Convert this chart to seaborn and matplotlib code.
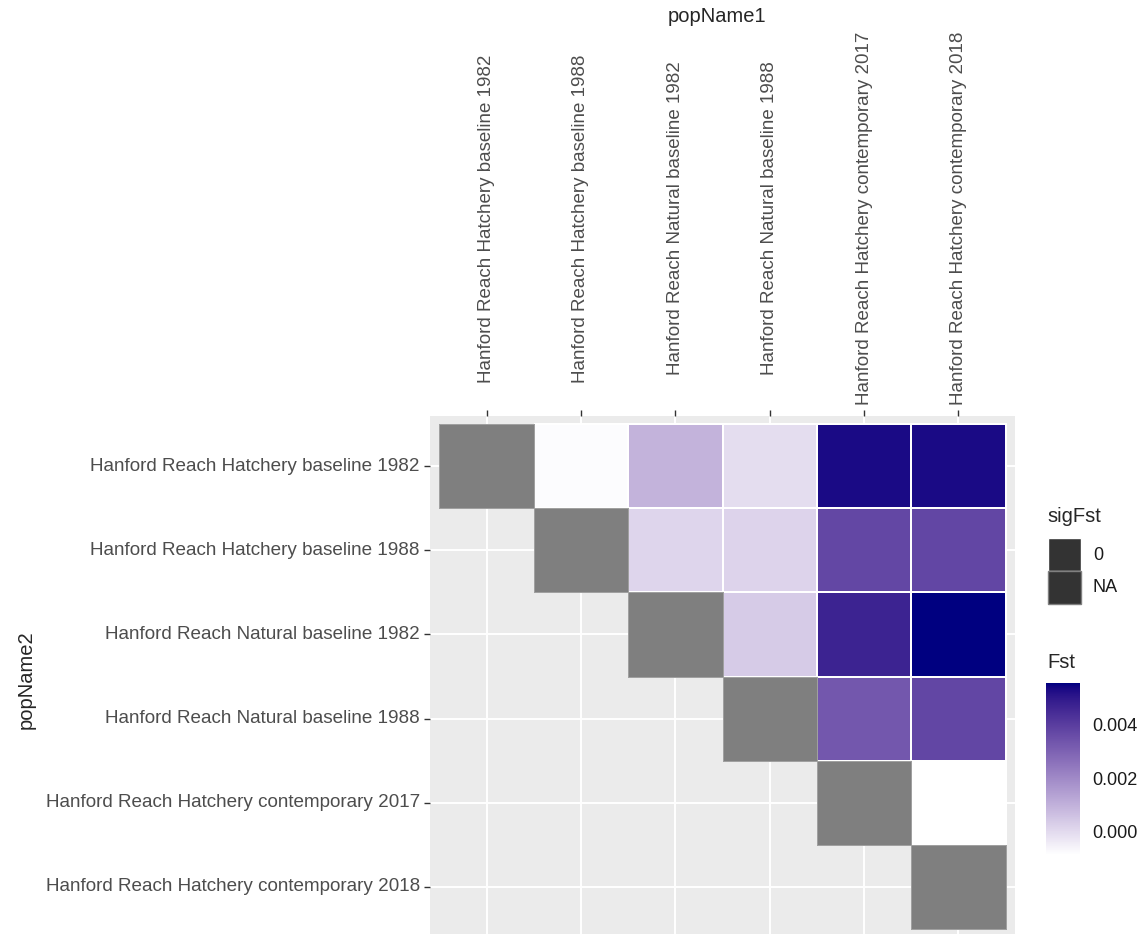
import numpy as np
import pandas as pd
import matplotlib
matplotlib.use("Agg")
import matplotlib.pyplot as plt
import seaborn as sns
from matplotlib.colors import ListedColormap, to_rgba
from matplotlib.patches import Rectangle

# Population pairs (popName1 on columns, popName2 on rows)
populations = [
    "Hanford Reach Hatchery baseline 1982",
    "Hanford Reach Hatchery baseline 1988",
    "Hanford Reach Natural baseline 1982",
    "Hanford Reach Natural baseline 1988",
    "Hanford Reach Hatchery contemporary 2017",
    "Hanford Reach Hatchery contemporary 2018",
]

nan = np.nan
# pairwise Fst, one list per popName2 row (diagonal = self comparison -> NA)
fst_hat_1982 = [nan, -0.00076, 0.00096, -0.00004, 0.00534, 0.00534]
fst_hat_1988 = [nan, nan, 0.00013, 0.00017, 0.00374, 0.00377]
fst_nat_1982 = [nan, nan, nan, 0.00039, 0.00473, 0.00557]
fst_nat_1988 = [nan, nan, nan, nan, 0.00333, 0.00377]
fst_con_2017 = [nan, nan, nan, nan, nan, -0.00086]
fst_con_2018 = [nan, nan, nan, nan, nan, nan]

sig_levels = ["0", "NA"]
fst_ticks = [0.000, 0.002, 0.004]

W, H = 1142, 934


def fx(px):
    return px / W


def fy(py):
    return 1 - py / H


def srgb_to_lab(rgb):
    rgb = np.asarray(rgb, dtype=float)
    c = np.where(rgb <= 0.04045, rgb / 12.92, ((rgb + 0.055) / 1.055) ** 2.4)
    M = np.array([[0.4124, 0.3576, 0.1805],
                  [0.2126, 0.7152, 0.0722],
                  [0.0193, 0.1192, 0.9505]])
    xyz = M @ c / np.array([0.95047, 1.0, 1.08883])
    d = 6 / 29
    f = np.where(xyz > d ** 3, np.cbrt(xyz), xyz / (3 * d ** 2) + 4 / 29)
    return np.array([116 * f[1] - 16, 500 * (f[0] - f[1]), 200 * (f[1] - f[2])])


def lab_to_srgb(lab):
    L, a, b = lab
    fy_ = (L + 16) / 116
    f = np.array([fy_ + a / 500, fy_, fy_ - b / 200])
    d = 6 / 29
    xyz = np.where(f > d, f ** 3, 3 * d ** 2 * (f - 4 / 29))
    xyz = xyz * np.array([0.95047, 1.0, 1.08883])
    Minv = np.array([[3.2406, -1.5372, -0.4986],
                     [-0.9689, 1.8758, 0.0415],
                     [0.0557, -0.2040, 1.0570]])
    c = Minv @ xyz
    c = np.clip(c, 0, 1)
    rgb = np.where(c <= 0.0031308, 12.92 * c, 1.055 * c ** (1 / 2.4) - 0.055)
    return np.clip(rgb, 0, 1)


def edges_only_on_data(mesh, values, color):
    # pcolormesh keeps edges on masked cells, hide them there
    ec = np.array([to_rgba(color)] * values.size)
    ec[np.isnan(values.ravel())] = (0, 0, 0, 0)
    mesh.set_edgecolors(ec)


# white -> navy gradient interpolated in Lab, like scale_fill_gradient
lab_lo = srgb_to_lab([1, 1, 1])
lab_hi = srgb_to_lab([0, 0, 128 / 255])
grad = [lab_to_srgb(lab_lo + s * (lab_hi - lab_lo)) for s in np.linspace(0, 1, 256)]
fst_cmap = ListedColormap(grad)

fst_df = pd.DataFrame(
    [fst_hat_1982, fst_hat_1988, fst_nat_1982, fst_nat_1988, fst_con_2017, fst_con_2018],
    index=populations, columns=populations,
)
n = len(populations)
diag_df = pd.DataFrame(np.where(np.eye(n, dtype=bool), 1.0, np.nan),
                       index=populations, columns=populations)

sns.set_theme(style="darkgrid", rc={
    "axes.facecolor": "#EBEBEB",
    "grid.color": "white",
    "grid.linewidth": 1.4,
    "figure.facecolor": "white",
})
plt.rcParams["font.family"] = ["Liberation Sans", "DejaVu Sans"]

fig = plt.figure(figsize=(W / 100, H / 100), dpi=100)
ax = fig.add_axes([fx(430), fy(937), fx(1015) - fx(430), fy(416) - fy(937)])
cax = fig.add_axes([fx(1046), fy(855), fx(1080) - fx(1046), fy(683) - fy(855)])

sns.heatmap(fst_df, ax=ax, cmap=fst_cmap,
            vmin=np.nanmin(fst_df.values), vmax=np.nanmax(fst_df.values),
            linewidths=1.2, linecolor="white", cbar_ax=cax,
            cbar_kws={"ticks": fst_ticks, "format": "%.3f"})
edges_only_on_data(ax.collections[-1], fst_df.values, "white")

sns.heatmap(diag_df, ax=ax, cmap=ListedColormap(["#7F7F7F"]), cbar=False,
            linewidths=0.6, linecolor="#A0A0A0")
edges_only_on_data(ax.collections[-1], diag_df.values, "#A0A0A0")

ax.set_facecolor("#EBEBEB")
ax.set_axisbelow(True)
ax.grid(True, color="white", linewidth=1.4)
for s in ax.spines.values():
    s.set_visible(False)
ax.set_xlim(-0.1, n + 0.1)
ax.set_ylim(n + 0.1, -0.1)

ax.xaxis.tick_top()
ax.set_xticks(np.arange(n) + 0.5)
ax.set_yticks(np.arange(n) + 0.5)
ax.set_xticklabels(populations, rotation=90, va="center", ha="center")
ax.set_yticklabels(populations, rotation=0)
ax.tick_params(axis="x", top=True, bottom=False, length=4.3, width=1, color="#333333",
               labelsize=13.5, labelcolor="#4D4D4D", pad=138)
ax.tick_params(axis="y", left=True, length=4.3, width=1, color="#333333",
               labelsize=13.6, labelcolor="#4D4D4D", pad=3)
ax.set_xlabel("")
ax.set_ylabel("")

fig.text(fx(717), fy(17), "popName1", ha="center", va="center", fontsize=14.5)
fig.text(fx(26), fy(680), "popName2", ha="center", va="center", rotation=90, fontsize=14.5)

# colourbar styled like ggplot's guide_colourbar
cbar = ax.collections[0].colorbar
cbar.outline.set_visible(False)
cax.tick_params(axis="y", direction="in", color="white", length=6, width=1,
                left=True, right=True, labelleft=False, labelright=True,
                labelsize=13, labelcolor="#1A1A1A", pad=9)
fig.text(fx(1047), fy(663), "Fst", ha="left", va="center", fontsize=14.5)

# sigFst legend (tile outline colour)
fig.text(fx(1047), fy(517), "sigFst", ha="left", va="center", fontsize=14.5)
key_edges = ["white", "#7F7F7F"]
for i, (lvl, ec) in enumerate(zip(sig_levels, key_edges)):
    top = 538 + i * 33
    fig.add_artist(Rectangle((fx(1048), fy(top + 33)), fx(1081) - fx(1048), fy(top) - fy(top + 33),
                             transform=fig.transFigure, facecolor="#333333", edgecolor=ec,
                             linewidth=1))
    fig.text(fx(1093), fy(top + 17), lvl, ha="left", va="center", fontsize=13, color="#1A1A1A")

fig.savefig("out.png", dpi=100)
